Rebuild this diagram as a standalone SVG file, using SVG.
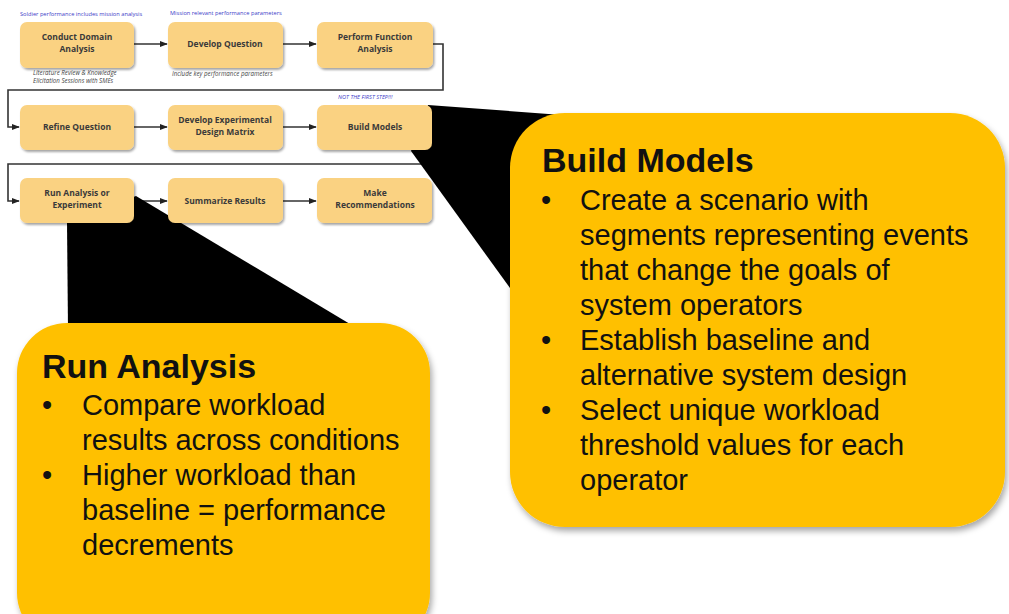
<svg xmlns="http://www.w3.org/2000/svg" width="1009" height="614" viewBox="0 0 1009 614">
<defs>
<filter id="sh" x="-10%" y="-10%" width="130%" height="140%"><feDropShadow dx="1.5" dy="2" stdDeviation="1.2" flood-color="#000" flood-opacity="0.35"/></filter>
<filter id="bsh" x="-10%" y="-10%" width="130%" height="130%"><feDropShadow dx="2" dy="4" stdDeviation="3" flood-color="#000" flood-opacity="0.35"/></filter>
<marker id="ah" viewBox="0 0 10 10" refX="9" refY="5" markerWidth="5" markerHeight="5" orient="auto"><path d="M0,1 L10,5 L0,9 z" fill="#222"/></marker>
<style>
.node rect{fill:#FAD282;filter:url(#sh)}
.nt{font-family:"Open Sans","Liberation Sans",sans-serif;font-weight:bold;font-size:8.5px;fill:#3a3a3a;text-anchor:middle}
.blue{font-family:"Open Sans","Liberation Sans",sans-serif;font-size:5.7px;fill:#4040c8}
.note{font-family:"Open Sans","Liberation Sans",sans-serif;font-style:italic;font-size:6.2px;fill:#444}
.cn{fill:none;stroke:#333;stroke-width:1.6;marker-end:url(#ah)}
.callout{fill:#FFC000;filter:url(#bsh)}
.h{font-family:"Liberation Sans",Arial,sans-serif;font-weight:bold;font-size:34px;fill:#111}
.b{font-family:"Liberation Sans",Arial,sans-serif;font-size:29px;fill:#111}
</style>
</defs>
<rect width="1009" height="614" fill="#fff"/>
<g id="connectors">
<path class="cn" d="M134,44 H167"/>
<path class="cn" d="M283,44 H316"/>
<path class="cn" d="M433,44 H443 V90 H8 V127 H19"/>
<path class="cn" d="M134,127 H167"/>
<path class="cn" d="M283,127 H316"/>
<path class="cn" d="M432,127 H443 V164 H8 V201 H19"/>
<path class="cn" d="M134,201 H167"/>
<path class="cn" d="M283,201 H316"/>
</g>
<g id="wedges">
<polygon points="428,105 562,115 515,295 411,151" fill="#000"/>
<polygon points="67,222 136,196 360,330 68,330" fill="#000"/>
</g>
<g id="labels">
<text class="blue" x="20" y="16">Soldier performance includes mission analysis</text>
<text class="blue" x="170" y="15">Mission relevant performance parameters</text>
<text class="note" x="33" y="75">Literature Review &amp; Knowledge</text>
<text class="note" x="33" y="83">Elicitation Sessions with SMEs</text>
<text class="note" x="172" y="76">Include key performance parameters</text>
<text class="blue" x="338" y="99" font-style="italic">NOT THE FIRST STEP!!!</text>
</g>
<g id="n1" class="node"><rect x="20" y="22" width="114" height="46" rx="7"/><text class="nt" x="77" y="40">Conduct Domain</text><text class="nt" x="77" y="52">Analysis</text></g>
<g id="n2" class="node"><rect x="168" y="22" width="115" height="46" rx="7"/><text class="nt" x="225" y="47">Develop Question</text></g>
<g id="n3" class="node"><rect x="317" y="22" width="116" height="46" rx="7"/><text class="nt" x="375" y="40">Perform Function</text><text class="nt" x="375" y="52">Analysis</text></g>
<g id="n4" class="node"><rect x="20" y="105" width="114" height="45" rx="7"/><text class="nt" x="77" y="130">Refine Question</text></g>
<g id="n5" class="node"><rect x="168" y="105" width="115" height="45" rx="7"/><text class="nt" x="225" y="123">Develop Experimental</text><text class="nt" x="225" y="135">Design Matrix</text></g>
<g id="n6" class="node"><rect x="317" y="105" width="115" height="45" rx="7"/><text class="nt" x="375" y="130">Build Models</text></g>
<g id="n7" class="node"><rect x="20" y="178" width="114" height="45" rx="7"/><text class="nt" x="77" y="196">Run Analysis or</text><text class="nt" x="77" y="208">Experiment</text></g>
<g id="n8" class="node"><rect x="168" y="178" width="115" height="45" rx="7"/><text class="nt" x="225" y="204">Summarize Results</text></g>
<g id="n9" class="node"><rect x="317" y="178" width="115" height="45" rx="7"/><text class="nt" x="375" y="196">Make</text><text class="nt" x="375" y="208">Recommendations</text></g>
<g id="build-callout">
<rect class="callout" x="510" y="113" width="495" height="414" rx="55"/>
<text class="h" x="542" y="172">Build Models</text>
<text class="b" x="541" y="210">•</text><text class="b" x="580" y="210">Create a scenario with</text>
<text class="b" x="580" y="245">segments representing events</text>
<text class="b" x="580" y="280">that change the goals of</text>
<text class="b" x="580" y="315">system operators</text>
<text class="b" x="541" y="350">•</text><text class="b" x="580" y="350">Establish baseline and</text>
<text class="b" x="580" y="385">alternative system design</text>
<text class="b" x="541" y="420">•</text><text class="b" x="580" y="420">Select unique workload</text>
<text class="b" x="580" y="455">threshold values for each</text>
<text class="b" x="580" y="490">operator</text>
</g>
<g id="run-callout">
<rect class="callout" x="17" y="323" width="413" height="320" rx="50"/>
<text class="h" x="42" y="378">Run Analysis</text>
<text class="b" x="42" y="415">•</text><text class="b" x="82" y="415">Compare workload</text>
<text class="b" x="82" y="450">results across conditions</text>
<text class="b" x="42" y="485">•</text><text class="b" x="82" y="485">Higher workload than</text>
<text class="b" x="82" y="520">baseline = performance</text>
<text class="b" x="82" y="555">decrements</text>
</g>
</svg>
